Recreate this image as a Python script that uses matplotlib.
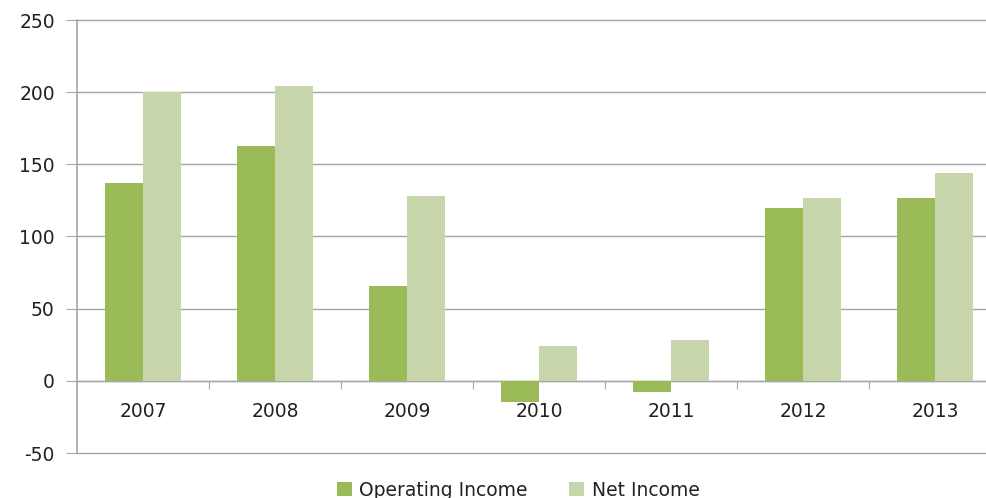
import numpy as np
import matplotlib.pyplot as plt

years = ['2007', '2008', '2009', '2010', '2011', '2012', '2013']
operating_income = [137, 163, 66, -15, -8, 120, 127]
net_income = [200, 204, 128, 24, 28, 127, 144]

plt.rcParams['font.family'] = 'DejaVu Sans'
plt.rcParams['axes.unicode_minus'] = False

fig = plt.figure(figsize=(9.87, 4.98), dpi=100)
ax = fig.add_axes([77 / 987, 45 / 498, 924 / 987, 433 / 498])

x = np.arange(len(years))
w = 0.285
ax.bar(x - w / 2, operating_income, w, color='#9bbb59', label='Operating Income', zorder=3)
ax.bar(x + w / 2, net_income, w, color='#c6d6aa', label='Net Income', zorder=3)

ax.set_xlim(-0.5, len(years) - 0.5)
ax.set_ylim(-50, 250)
ax.set_yticks(range(-50, 251, 50))
ax.yaxis.grid(True, color='#a6a6a6', linewidth=1.0, zorder=0)
for gl in ax.get_ygridlines():
    gl.set_clip_on(False)

ax.spines['top'].set_visible(False)
ax.spines['right'].set_visible(False)
ax.spines['left'].set_color('#a6a6a6')
ax.spines['left'].set_linewidth(1.2)
ax.spines['bottom'].set_position(('data', 0))
ax.spines['bottom'].set_color('#a6a6a6')
ax.spines['bottom'].set_linewidth(1.0)

ax.set_xticks(x[:-1] + 0.5)
ax.set_xticklabels([])
ax.set_xticks(x, minor=True)
ax.set_xticklabels(years, minor=True)
ax.tick_params(axis='x', which='major', length=6, color='#a6a6a6', direction='out')
ax.tick_params(axis='x', which='minor', length=0, pad=15, labelsize=13.5, labelcolor='#222222')
ax.tick_params(axis='y', length=8, color='#a6a6a6', labelsize=13.5, labelcolor='#222222', pad=8)

fig.legend(loc='center', bbox_to_anchor=(0.525, 1 - 490 / 498), ncol=2, frameon=False,
           fontsize=13.5, handlelength=0.8, handleheight=0.8, handletextpad=0.4,
           columnspacing=2.2, labelcolor='#222222')

fig.savefig('out.png', dpi=100)
